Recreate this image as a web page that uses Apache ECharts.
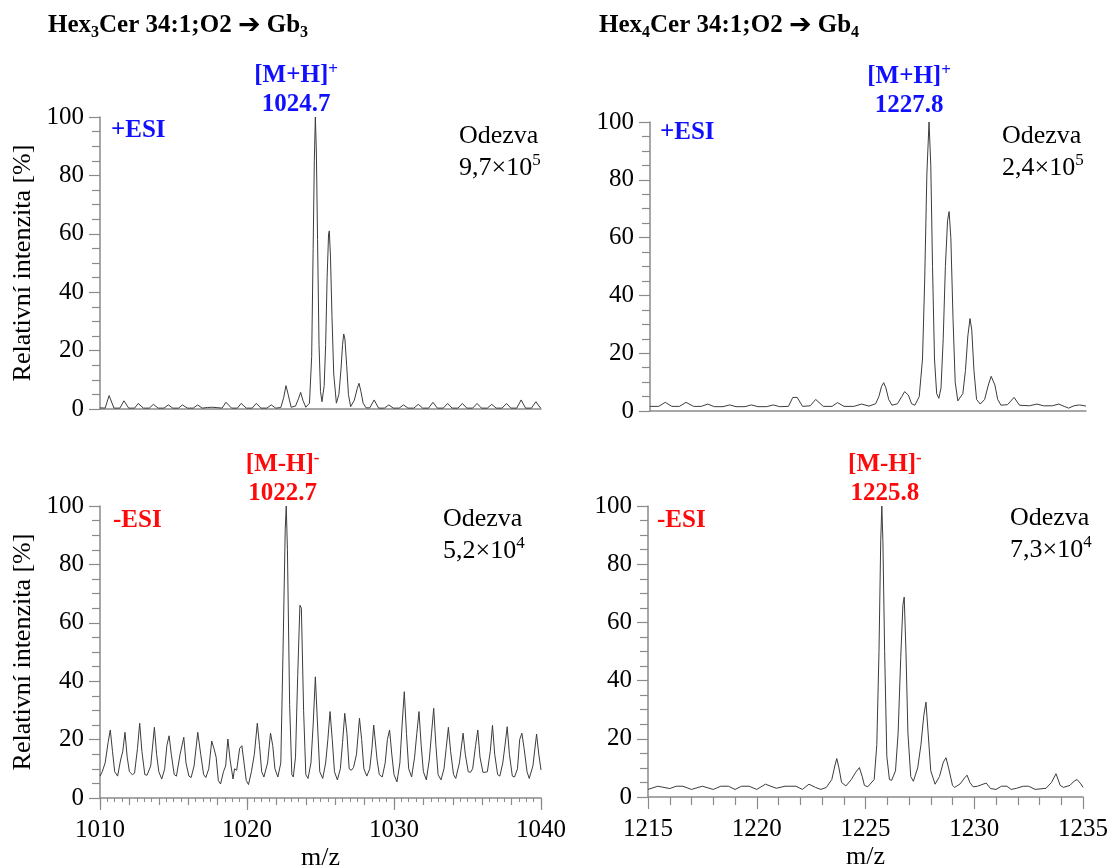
<!DOCTYPE html>
<html>
<head>
<meta charset="utf-8">
<script src="https://cdn.jsdelivr.net/npm/echarts@6/dist/echarts.min.js"></script>
<style>
html,body{margin:0;padding:0;background:#fff;}
#chart{width:1115px;height:868px;}
</style>
</head>
<body>
<div id="chart"></div>
<script>
// ---------- DATA ----------
const titles = ['Hex{s|3}Cer 34:1;O2 {ar|\u2794} Gb{s|3}', 'Hex{s|4}Cer 34:1;O2 {ar|\u2794} Gb{s|4}'];
const xTicksLeft = [1010, 1020, 1030, 1040];
const xTicksRight = [1215, 1220, 1225, 1230, 1235];
const yTicks = [0, 20, 40, 60, 80, 100];
const responses = ['9,7\u00d710{sup|5}', '2,4\u00d710{sup|5}', '5,2\u00d710{sup|4}', '7,3\u00d710{sup|4}'];
const peakMz = [1024.7, 1227.8, 1022.7, 1225.8];
const peakIon = ['[M+H]', '[M+H]', '[M-H]', '[M-H]'];
const peakCharge = ['+', '+', '-', '-'];

// Hex3Cer, +ESI, m/z 1010-1040
const hex3Pos = [
[1010.0,0.4],[1010.35,0.3],[1010.62,4.6],[1010.95,0.3],[1011.35,0.3],[1011.63,2.8],[1011.95,0.3],
[1012.35,0.3],[1012.6,1.9],[1012.95,0.3],[1013.35,0.3],[1013.63,1.6],[1013.95,0.3],
[1014.35,0.3],[1014.65,1.4],[1014.95,0.3],[1015.35,0.3],[1015.6,1.4],[1015.95,0.3],
[1016.35,0.3],[1016.64,1.4],[1016.95,0.3],[1017.3,0.5],[1017.6,0.6],[1017.9,0.5],
[1018.3,0.3],[1018.57,2.3],[1018.95,0.3],[1019.35,0.3],[1019.6,1.9],[1019.95,0.3],
[1020.35,0.3],[1020.63,1.9],[1020.95,0.3],[1021.35,0.3],[1021.65,1.4],[1021.95,0.3],
[1022.3,0.5],[1022.5,4],[1022.65,8.0],[1022.8,5],[1023.0,0.6],[1023.3,1],[1023.5,3.5],[1023.65,5.7],[1023.8,3],[1024.0,0.6],
[1024.25,2],[1024.4,18],[1024.5,55],[1024.58,85],[1024.65,100],[1024.72,88],[1024.8,58],[1024.9,22],[1025.0,6],[1025.1,2.5],
[1025.25,8],[1025.35,22],[1025.45,45],[1025.55,60],[1025.6,61],[1025.68,52],[1025.78,32],[1025.9,12],[1026.08,2],
[1026.25,5],[1026.4,14],[1026.5,22],[1026.58,25.7],[1026.66,24],[1026.78,15],[1026.9,5],[1027.05,0.8],
[1027.3,3],[1027.5,7],[1027.62,8.8],[1027.75,6],[1027.9,2],[1028.1,0.4],[1028.35,0.4],[1028.65,3.1],[1028.95,0.3],
[1029.35,0.3],[1029.65,1.4],[1029.95,0.3],[1030.35,0.3],[1030.65,1.4],[1030.95,0.3],
[1031.35,0.3],[1031.65,1.6],[1031.95,0.3],[1032.35,0.3],[1032.65,2.3],[1032.95,0.3],
[1033.35,0.3],[1033.65,1.9],[1033.95,0.3],[1034.35,0.3],[1034.65,1.9],[1034.95,0.3],
[1035.35,0.3],[1035.65,1.9],[1035.95,0.3],[1036.35,0.3],[1036.65,1.6],[1036.95,0.3],
[1037.35,0.3],[1037.65,1.9],[1037.95,0.3],[1038.35,0.3],[1038.65,3.1],[1038.95,0.3],
[1039.35,0.3],[1039.65,2.5],[1039.95,0.4],[1040.0,0.4]
];

// Hex4Cer, +ESI, m/z 1215-1235
const hex4Pos = [
[1215.0,1.6],[1215.4,1.6],[1215.7,3.0],[1216.0,1.6],[1216.35,1.6],[1216.65,3.0],[1217.0,1.6],
[1217.35,1.6],[1217.65,2.4],[1217.95,1.5],[1218.35,1.5],[1218.65,2.1],[1218.95,1.5],
[1219.35,1.5],[1219.65,2.1],[1219.95,1.5],[1220.35,1.5],[1220.65,2.1],[1220.95,1.5],
[1221.35,1.6],[1221.55,4.7],[1221.75,4.7],[1222.0,1.6],[1222.35,1.8],[1222.6,4.0],[1222.95,1.6],
[1223.35,1.6],[1223.6,2.9],[1223.9,1.6],[1224.35,1.6],[1224.7,2.4],[1225.05,1.7],
[1225.35,2.5],[1225.5,5],[1225.62,8.5],[1225.72,9.8],[1225.82,8],[1225.95,4],[1226.1,2.0],
[1226.35,2.5],[1226.55,5],[1226.68,6.7],[1226.75,6.9],[1226.85,5.5],[1227.0,2.5],[1227.15,2.0],
[1227.35,5],[1227.5,18],[1227.6,45],[1227.7,82],[1227.8,100],[1227.88,85],[1227.96,50],[1228.05,18],[1228.15,6],[1228.25,4.4],
[1228.35,8],[1228.45,25],[1228.55,50],[1228.65,66],[1228.72,69],[1228.8,60],[1228.9,32],[1229.0,10],[1229.12,3.5],[1229.2,2.9],
[1229.35,6],[1229.47,14],[1229.58,26],[1229.68,32],[1229.76,28],[1229.86,14],[1229.98,4],[1230.15,2.4],
[1230.35,4],[1230.52,9],[1230.65,12],[1230.72,12.2],[1230.82,9],[1230.95,4],[1231.1,2.0],
[1231.4,2.2],[1231.7,4.7],[1231.95,2.0],[1232.4,1.8],[1232.75,2.4],[1233.05,1.8],
[1233.45,1.8],[1233.75,2.4],[1234.0,1.6],[1234.2,1.0],[1234.45,1.8],[1234.7,2.1],[1235.0,1.7]
];

// Hex3Cer, -ESI, m/z 1010-1040
const hex3Neg = [
[1010.0,7.5],[1010.15,9],[1010.35,12],[1010.55,19],[1010.7,23.3],[1010.85,16],[1011.0,9],
[1011.2,7.5],[1011.4,13],[1011.55,16],[1011.7,22.5],[1011.85,14],[1012.0,9],
[1012.2,8],[1012.35,8.5],[1012.55,17],[1012.7,25.6],[1012.85,16],[1013.05,8],
[1013.2,7.8],[1013.45,11],[1013.7,24.2],[1013.85,15],[1014.0,9],
[1014.2,6.5],[1014.4,10],[1014.55,18],[1014.7,21.3],[1014.85,15],[1015.05,8],
[1015.2,7.5],[1015.45,15],[1015.7,20.8],[1015.85,12],[1016.05,7.5],
[1016.2,7],[1016.4,11],[1016.65,22.5],[1016.85,15],[1017.05,8],
[1017.2,7],[1017.4,10],[1017.6,19.5],[1017.75,17],[1017.9,14],[1018.05,6],
[1018.2,4.8],[1018.4,9],[1018.55,11],[1018.7,20.2],[1018.85,13],[1019.05,6.5],
[1019.15,10],[1019.3,9.5],[1019.5,17],[1019.65,17.9],[1019.8,12],[1019.95,6],
[1020.1,4.6],[1020.3,9],[1020.5,15],[1020.7,25.6],[1020.85,18],[1021.0,9],
[1021.15,7.2],[1021.4,12],[1021.6,22.2],[1021.75,18],[1021.9,10],
[1022.1,7.2],[1022.3,12],[1022.45,50],[1022.6,92],[1022.67,100],[1022.75,85],[1022.9,32],[1023.05,8],
[1023.15,7.2],[1023.3,14],[1023.45,42],[1023.6,66],[1023.7,65],[1023.85,30],[1024.0,8],
[1024.15,6.7],[1024.35,12],[1024.5,25],[1024.65,41.5],[1024.8,25],[1024.95,9],
[1025.15,6.7],[1025.35,12],[1025.5,20],[1025.65,29.6],[1025.8,20],[1025.95,9],
[1026.15,6.2],[1026.35,10],[1026.5,19],[1026.65,29],[1026.8,22],[1026.95,10],
[1027.1,9.5],[1027.25,10.5],[1027.45,15],[1027.65,27.3],[1027.8,20],[1027.95,10],
[1028.15,7.5],[1028.35,10],[1028.5,17],[1028.62,25],[1028.7,25],[1028.85,13],[1029.0,8],
[1029.2,7.2],[1029.4,12],[1029.55,20],[1029.7,23.3],[1029.85,15],[1030.0,8],
[1030.2,5.5],[1030.4,12],[1030.55,25],[1030.7,36.4],[1030.85,22],[1031.0,10],
[1031.2,7.2],[1031.4,14],[1031.55,22],[1031.7,29.6],[1031.85,18],[1032.0,9],
[1032.2,6.2],[1032.4,13],[1032.55,22],[1032.7,30.7],[1032.85,18],[1033.0,8],
[1033.2,6.2],[1033.4,10],[1033.55,17],[1033.7,24.2],[1033.85,16],[1034.05,8],
[1034.2,6.7],[1034.45,12],[1034.7,22.2],[1034.85,15],[1035.05,9],
[1035.2,8.8],[1035.35,10],[1035.55,18],[1035.7,23.3],[1035.85,14],[1036.05,8.8],
[1036.2,8.8],[1036.35,9],[1036.55,16],[1036.7,24.9],[1036.85,15],[1037.05,8],
[1037.2,7.5],[1037.4,12],[1037.55,18],[1037.7,24.4],[1037.85,15],[1038.05,7.5],
[1038.2,7.2],[1038.4,10],[1038.55,20],[1038.7,22.2],[1038.85,17],[1039.05,9],
[1039.2,6.7],[1039.45,11],[1039.7,21.9],[1039.85,15],[1040.0,9.6]
];

// Hex4Cer, -ESI, m/z 1215-1235
const hex4Neg = [
[1215.0,2.6],[1215.45,3.7],[1216.0,2.9],[1216.3,3.7],[1216.6,3.7],[1217.0,2.6],
[1217.5,3.7],[1218.0,2.6],[1218.35,3.7],[1218.7,3.7],[1219.0,2.6],[1219.3,3.7],[1219.65,3.7],
[1220.0,2.6],[1220.4,4.4],[1220.9,3.0],[1221.3,3.7],[1221.8,3.7],[1222.1,2.6],
[1222.4,4.4],[1222.7,3.3],[1222.95,2.6],[1223.2,3.3],[1223.45,6],[1223.6,11],[1223.68,13.2],[1223.78,10],[1223.9,5],
[1224.1,3.8],[1224.35,6],[1224.55,8.5],[1224.72,10.1],[1224.85,7],[1224.95,4],[1225.1,3.5],
[1225.4,6],[1225.52,18],[1225.62,50],[1225.7,88],[1225.75,100],[1225.8,88],[1225.88,50],[1225.98,14],[1226.1,6],[1226.2,5.7],
[1226.38,9],[1226.5,22],[1226.62,48],[1226.72,66],[1226.78,68.7],[1226.86,50],[1226.95,22],[1227.08,7],[1227.2,5.4],
[1227.4,10],[1227.55,18],[1227.68,28],[1227.78,32.6],[1227.88,22],[1228.0,9],[1228.2,4.4],
[1228.4,7],[1228.58,12],[1228.7,13.5],[1228.82,10],[1229.0,4],[1229.1,3.3],[1229.35,4.5],[1229.55,6.5],[1229.67,7.5],[1229.8,5],[1229.95,3.5],
[1230.15,3.7],[1230.55,4.8],[1230.75,2.9],[1231.0,2.6],[1231.25,3.7],[1231.5,3.7],[1231.7,2.6],
[1231.95,3.0],[1232.25,3.7],[1232.5,3.7],[1232.8,2.6],[1233.3,3.0],[1233.55,5],[1233.76,8.0],
[1233.95,4],[1234.1,3.3],[1234.4,4],[1234.6,5.5],[1234.73,6.0],[1234.9,4.5],[1235.0,3.3]
];

// ---------- CHART ----------
const FONT = 'Liberation Serif, Times New Roman, serif';
const BLUE = '#1010ff', RED = '#ff0a0a';
const AXIS = '#8a8a8a';
const chart = echarts.init(document.getElementById('chart'), null, {renderer: 'canvas'});

const grids = [
  {left: 100, top: 117, width: 441, height: 292, containLabel: false, outerBoundsMode: 'none'},
  {left: 650, top: 122, width: 436, height: 289, containLabel: false, outerBoundsMode: 'none'},
  {left: 100, top: 506, width: 441, height: 292, containLabel: false, outerBoundsMode: 'none'},
  {left: 648, top: 506, width: 435, height: 291, containLabel: false, outerBoundsMode: 'none'}
];

function plain(v) { return String(v); }

function xAxisBase(gi, min, max, interval, showLabels) {
  return {
    type: 'value', gridIndex: gi, min: min, max: max, interval: interval,
    position: 'bottom',
    axisLine: {show: true, onZero: false, lineStyle: {color: AXIS, width: 1.5}},
    axisTick: {show: showLabels, length: 12, lineStyle: {color: AXIS, width: 1.2}},
    axisLabel: {show: showLabels, formatter: plain, fontFamily: FONT, fontSize: 25, color: '#000', margin: 20},
    splitLine: {show: false}
  };
}
const xAxes = [
  xAxisBase(0, xTicksLeft[0], xTicksLeft[3], 10, false),
  xAxisBase(1, xTicksRight[0], xTicksRight[4], 5, false),
  Object.assign(xAxisBase(2, xTicksLeft[0], xTicksLeft[3], 10, true), {
    minorTick: {show: true, splitNumber: 20, length: 4, lineStyle: {color: AXIS, width: 1}},
    name: 'm/z', nameLocation: 'middle', nameGap: 47,
    nameTextStyle: {fontFamily: FONT, fontSize: 26, color: '#000'}
  }),
  Object.assign(xAxisBase(3, xTicksRight[0], xTicksRight[4], 5, true), {
    minorTick: {show: true, splitNumber: 5, length: 8, lineStyle: {color: AXIS, width: 1.2}},
    name: 'm/z', nameLocation: 'middle', nameGap: 47,
    nameTextStyle: {fontFamily: FONT, fontSize: 26, color: '#000'}
  }),
  // medium ticks every 2 units on the lower-left axis
  {
    type: 'value', gridIndex: 2, min: xTicksLeft[0], max: xTicksLeft[3], interval: 2, position: 'bottom',
    axisLine: {show: false}, axisLabel: {show: false}, splitLine: {show: false},
    axisTick: {show: true, length: 7, lineStyle: {color: AXIS, width: 1.2}}
  }
];

function yAxisBase(gi, withName) {
  const a = {
    type: 'value', gridIndex: gi, min: yTicks[0], max: yTicks[yTicks.length - 1], interval: 20,
    axisLine: {show: true, lineStyle: {color: AXIS, width: 1.5}},
    axisTick: {show: true, length: 11, lineStyle: {color: AXIS, width: 1.2}},
    minorTick: {show: true, splitNumber: 4, length: 8, lineStyle: {color: AXIS, width: 1.2}},
    axisLabel: {formatter: plain, fontFamily: FONT, fontSize: 25, color: '#000', margin: 16},
    splitLine: {show: false}
  };
  if (withName) {
    a.name = 'Relativní intenzita [%]';
    a.nameLocation = 'middle';
    a.nameGap = 64;
    a.nameTextStyle = {fontFamily: FONT, fontSize: 26, color: '#000'};
  }
  return a;
}
const yAxes = [yAxisBase(0, true), yAxisBase(1, false), yAxisBase(2, true), yAxisBase(3, false)];

const spectra = [hex3Pos, hex4Pos, hex3Neg, hex4Neg];
const colors = [BLUE, BLUE, RED, RED];
const labelOffsets = [[-20, 2], [-20, -2], [-4, 2], [2, 2]];

const series = spectra.map(function (d, i) {
  return {
    type: 'line', xAxisIndex: i, yAxisIndex: i, data: d,
    showSymbol: false, symbol: 'none', silent: true, animation: false,
    lineStyle: {color: '#3c3c3c', width: 1},
    markPoint: {
      symbol: 'circle', symbolSize: 0, animation: false, silent: true,
      data: [{coord: [peakMz[i], 100]}],
      label: {
        show: true, position: 'top', distance: 0, offset: labelOffsets[i],
        formatter: '{b|' + peakIon[i] + '}{sup|' + peakCharge[i] + '}\n{b|' + peakMz[i].toFixed(1) + '}',
        rich: {
          b: {fontFamily: FONT, fontWeight: 'bold', fontSize: 25, color: colors[i], lineHeight: 29},
          sup: {fontFamily: FONT, fontWeight: 'bold', fontSize: 17, color: colors[i], lineHeight: 17, verticalAlign: 'top'}
        }
      }
    }
  };
});

// text blocks
const esiText = ['+ESI', '+ESI', '-ESI', '-ESI'];
const esiPos = [[111, 117], [660, 119], [113, 507], [657, 507]];
const odezPos = [[459, 120], [1002, 120], [443, 503], [1010, 502]];
const graphics = [];
titles.forEach(function (t, i) {
  graphics.push({
    type: 'text', x: i === 0 ? 48 : 599, y: 11, silent: true,
    style: {
      text: t, fill: '#000', align: 'left', verticalAlign: 'top',
      font: 'bold 25px ' + FONT, lineHeight: 30,
      rich: {
        s: {font: 'bold 16px ' + FONT, lineHeight: 16, verticalAlign: 'bottom'},
        ar: {font: 'bold 27px DejaVu Sans', lineHeight: 30}
      }
    }
  });
});
esiText.forEach(function (t, i) {
  graphics.push({
    type: 'text', x: esiPos[i][0], y: esiPos[i][1], silent: true,
    style: {text: t, fill: colors[i], font: 'bold 25px ' + FONT, lineHeight: 27, align: 'left', verticalAlign: 'top'}
  });
});
responses.forEach(function (t, i) {
  graphics.push({
    type: 'text', x: odezPos[i][0], y: odezPos[i][1], silent: true,
    style: {
      text: '{n|Odezva}\n{n|' + t.replace('{sup|', '}{sup|'), fill: '#000', align: 'left', verticalAlign: 'top',
      rich: {
        n: {font: '26px ' + FONT, lineHeight: 32, fill: '#000'},
        sup: {font: '17px ' + FONT, lineHeight: 17, verticalAlign: 'top', fill: '#000'}
      }
    }
  });
});

chart.setOption({
  animation: false,
  backgroundColor: '#fff',
  grid: grids,
  xAxis: xAxes,
  yAxis: yAxes,
  series: series,
  graphic: graphics
});
</script>
</body>
</html>
